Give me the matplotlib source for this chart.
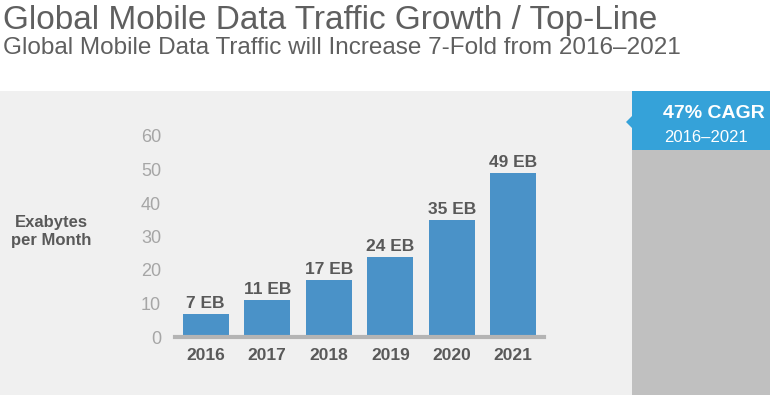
#!/usr/bin/env python3
"""Global mobile data traffic growth bar chart."""

import matplotlib
import matplotlib.pyplot as plt
from matplotlib.patches import Polygon, Rectangle

matplotlib.use("Agg")
plt.rcParams["font.family"] = ["Liberation Sans", "DejaVu Sans"]

YEARS = ["2016", "2017", "2018", "2019", "2020", "2021"]
TRAFFIC_EB = [7, 11, 17, 24, 35, 49]
Y_TICKS = [0, 10, 20, 30, 40, 50, 60]

TITLE = "Global Mobile Data Traffic Growth / Top-Line"
SUBTITLE = "Global Mobile Data Traffic will Increase 7-Fold from 2016\u20132021"
CAGR = "47% CAGR"
CAGR_SPAN = "2016\u20132021"

W, H = 770, 395
BAR = "#4a92c8"
DARK = "#595959"
LIGHT = "#a6a6a6"
PANEL = "#f0f0f0"


def px(x, y):
    """pixel (from top-left) -> figure fraction"""
    return x / W, 1 - y / H


def main():
    fig = plt.figure(figsize=(W / 100, H / 100), dpi=100)
    fig.patch.set_facecolor("white")

    # background panels
    fig.patches.append(Rectangle(px(0, H), 632 / W, (H - 91) / H, transform=fig.transFigure,
                                 color=PANEL, lw=0, zorder=0))
    fig.patches.append(Rectangle(px(632, H), (W - 632) / W, (H - 150) / H, transform=fig.transFigure,
                                 color="#c0c0c0", lw=0, zorder=0))
    fig.patches.append(Rectangle(px(632, 150), (W - 632) / W, 59 / H, transform=fig.transFigure,
                                 color="#35a2d9", lw=0, zorder=1))
    fig.patches.append(Polygon([px(632, 116), px(626, 122), px(632, 128)], closed=True,
                               transform=fig.transFigure, color="#35a2d9", lw=0, zorder=1))

    fig.text(3 / W, 1 - 20 / H, TITLE, fontsize=24, color="#5f5f5f", va="center", ha="left")
    fig.text(3 / W, 1 - 48 / H, SUBTITLE, fontsize=17.5, color="#5f5f5f", va="center", ha="left")
    fig.text(663 / W, 1 - 113 / H, CAGR, fontsize=14, color="white", fontweight="bold",
             va="center", ha="left")
    fig.text(664 / W, 1 - 137 / H, CAGR_SPAN, fontsize=12, color="white", va="center", ha="left")
    fig.text(51 / W, 1 - 232 / H, "Exabytes\nper Month", fontsize=12, color=DARK, fontweight="bold",
             va="center", ha="center", linespacing=1.25)

    ax = fig.add_axes([175 / W, 58 / H, 369 / W, 201 / H])
    ax.set_zorder(5)
    ax.set_facecolor("none")
    xs = range(len(YEARS))
    bars = ax.bar(xs, TRAFFIC_EB, width=0.75, color=BAR, zorder=2)
    for rect, val in zip(bars, TRAFFIC_EB):
        ax.annotate(f"{val} EB", (rect.get_x() + rect.get_width() / 2, val), xytext=(0, 2),
                    textcoords="offset points", ha="center", va="bottom", fontsize=12.5,
                    fontweight="bold", color=DARK)
    ax.set_xlim(-0.5, 5.5)
    ax.set_ylim(0, 60)
    ax.set_xticks(list(xs), YEARS)
    ax.set_yticks(Y_TICKS)
    ax.tick_params(axis="x", length=0, pad=8, labelsize=12.5, labelcolor=DARK)
    ax.tick_params(axis="y", length=0, pad=10, labelsize=13, labelcolor=LIGHT)
    for lab in ax.get_xticklabels():
        lab.set_fontweight("bold")
    for side in ("top", "right", "left"):
        ax.spines[side].set_visible(False)
    ax.spines["bottom"].set_color("#b4b4b4")
    ax.spines["bottom"].set_linewidth(3)
    ax.spines["bottom"].set_zorder(3)

    fig.savefig("out.png", dpi=100, facecolor="white")
    plt.close(fig)


if __name__ == "__main__":
    main()
